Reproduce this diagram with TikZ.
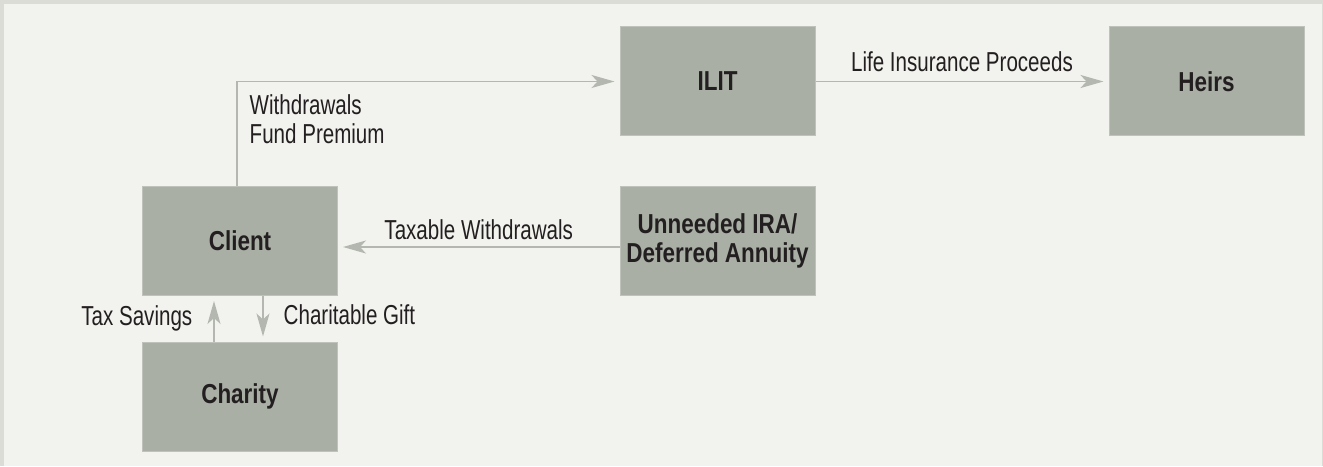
\documentclass[tikz,border=0pt]{standalone}
\usepackage{fontspec}
\usepackage{tikz}
\usetikzlibrary{arrows.meta,positioning}
\newfontfamily\labelfont{Liberation Sans}[FakeStretch=0.75]
\newfontfamily\boxfont{Liberation Sans}[FakeStretch=0.82]
\definecolor{boxfill}{HTML}{A9AFA5}
\definecolor{boxline}{HTML}{BEC2BA}
\definecolor{flowline}{HTML}{B3B7AF}
\definecolor{paper}{HTML}{F2F2EE}
\definecolor{edgegray}{HTML}{DCDCD6}
\definecolor{ink}{HTML}{231F20}
\tikzstyle{block} = [rectangle, minimum width=3.9cm, minimum height=2.18cm, text centered, align=center, draw=boxline, line width=0.02cm, fill=boxfill, text=ink, font=\boxfont\bfseries\fontsize{15.6}{16.5}\selectfont]
\tikzstyle{flow} = [draw=flowline, line width=0.03cm, shorten >=0.1cm]
\tikzstyle{tag} = [inner sep=0pt, text=ink, font=\labelfont\fontsize{15.6}{16.5}\selectfont]

\begin{document}
\begin{tikzpicture}[->,>={Stealth[length=0.46cm,width=0.26cm,inset=0.12cm]},auto]

        \fill[edgegray,-] (-4.8,-4.5) rectangle (21.66,4.82);
        \fill[paper,-] (-4.72,-4.5) rectangle (21.64,4.74);

        \node[block] (Client) {Client};
        \node[block] (Charity) [below of=Client, node distance=3.11cm] {Charity};
        \node[block] (IRA) [right of=Client, node distance=9.55cm] {Unneeded IRA/\\Deferred Annuity};
        \node[block] (ILIT) [above of=IRA, node distance=3.19cm] {ILIT};
        \node[block] (Heirs) [right of=ILIT, node distance=9.78cm] {Heirs};

        \path[flow] ([xshift=-0.06cm]Client.north) |- node[tag, pos=0.5, below right=0.24cm and 0.24cm, align=left] {Withdrawals\\Fund Premium} (ILIT);
        \path[flow] ([yshift=-0.12cm]IRA.west) -- node[tag, above=0.12cm] {Taxable Withdrawals} ([yshift=-0.12cm]Client.east);
        \path[flow] (ILIT) -- node[tag, above=0.18cm] {Life Insurance Proceeds} (Heirs);
        \path[flow] ([xshift=-0.52cm]Charity.north) -- node[tag, left=0.42cm] {Tax Savings} ([xshift=-0.52cm]Client.south);
        \path[flow] ([xshift=0.46cm]Client.south) -- node[tag, pos=0.42, right=0.4cm] {Charitable Gift} ([xshift=0.46cm]Charity.north);

\end{tikzpicture}
\end{document}
